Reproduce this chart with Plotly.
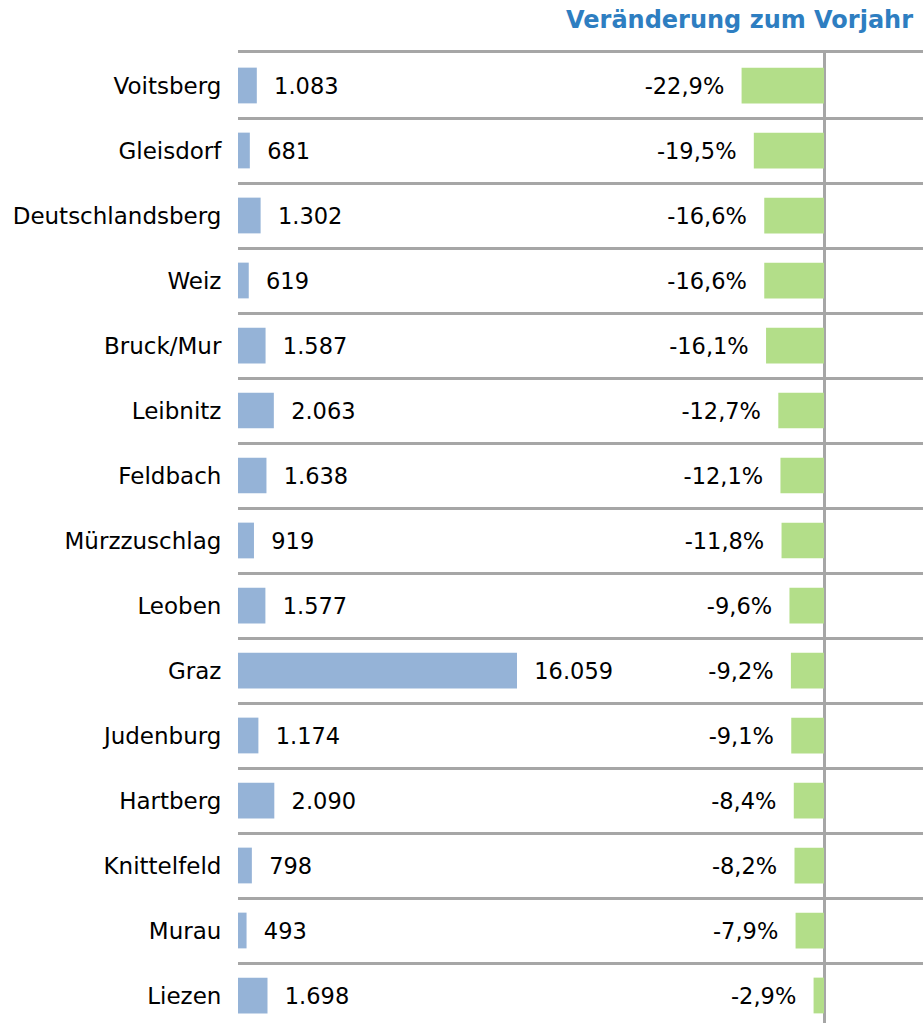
import plotly.graph_objects as go

categories = ["Voitsberg", "Gleisdorf", "Deutschlandsberg", "Weiz", "Bruck/Mur",
              "Leibnitz", "Feldbach", "Mürzzuschlag", "Leoben", "Graz",
              "Judenburg", "Hartberg", "Knittelfeld", "Murau", "Liezen"]
counts = [1083, 681, 1302, 619, 1587, 2063, 1638, 919, 1577, 16059,
          1174, 2090, 798, 493, 1698]
change_pct = [-22.9, -19.5, -16.6, -16.6, -16.1, -12.7, -12.1, -11.8, -9.6, -9.2,
              -9.1, -8.4, -8.2, -7.9, -2.9]
title_text = "Veränderung zum Vorjahr"

W, H = 923, 1023
n = len(categories)
ypos = list(range(n))

FONT = "DejaVu Sans"
FS = 22.5
GRID = "#A6A6A6"
NB = "\u00a0\u00a0"

fig = go.Figure()
fig.add_trace(go.Bar(
    x=counts, y=ypos, orientation="h", xaxis="x", yaxis="y",
    marker=dict(color="#95B3D7", line=dict(width=0)), width=0.55,
    texttemplate=NB + "%{x:,.0f}", textposition="outside", cliponaxis=False,
    constraintext="none", textfont=dict(family=FONT, size=FS, color="#000000"),
    hoverinfo="skip", showlegend=False,
))
fig.add_trace(go.Bar(
    x=change_pct, y=ypos, orientation="h", xaxis="x2", yaxis="y",
    marker=dict(color="#B3DE89", line=dict(width=0)), width=0.55,
    texttemplate="%{x:.1f}%" + NB, textposition="outside", cliponaxis=False,
    constraintext="none", textfont=dict(family=FONT, size=FS, color="#000000"),
    hoverinfo="skip", showlegend=False,
))

x0 = 238 / W
top_px = 53
row_px = 65
plot_h = H - top_px
y_bottom = -0.5 + plot_h / row_px

fig.update_layout(
    width=W, height=H,
    margin=dict(l=0, r=0, t=0, b=0, autoexpand=False),
    paper_bgcolor="white", plot_bgcolor="white",
    separators=",.",
    barmode="overlay",
    font=dict(family=FONT, size=FS, color="#000000"),
    xaxis=dict(domain=[x0, 1], range=[0, 39430], side="top", showgrid=False, zeroline=False,
               showticklabels=False, showline=True, linecolor=GRID, linewidth=2.5,
               ticks="", fixedrange=True),
    xaxis2=dict(overlaying="x", domain=[x0, 1], range=[-162.8, 27.5], showgrid=False,
                zeroline=True, zerolinecolor=GRID, zerolinewidth=2.5,
                showticklabels=False, showline=False, fixedrange=True),
    yaxis=dict(domain=[0, 1 - top_px / H], range=[y_bottom, -0.5],
               tickmode="array", tickvals=ypos, ticktext=categories,
               ticks="outside", ticklen=11, tickcolor="rgba(0,0,0,0)",
               showgrid=False, zeroline=False, showline=False,
               tickfont=dict(family=FONT, size=23, color="#000000"),
               minor=dict(tickmode="array", tickvals=[i - 0.5 for i in range(n + 1)],
                          showgrid=True, gridcolor=GRID, gridwidth=2.5),
               fixedrange=True),
    annotations=[dict(text="<b>" + title_text + "</b>", x=915 / W, y=1 - 20 / H,
                      xref="paper", yref="paper", xanchor="right", yanchor="middle",
                      showarrow=False,
                      font=dict(family=FONT, size=24, color="#2E7EC1"))],
)

fig.write_html(
    "out.html",
    config={"displayModeBar": False},
    post_script="document.body.style.margin='0';document.body.style.overflow='hidden';",
)
